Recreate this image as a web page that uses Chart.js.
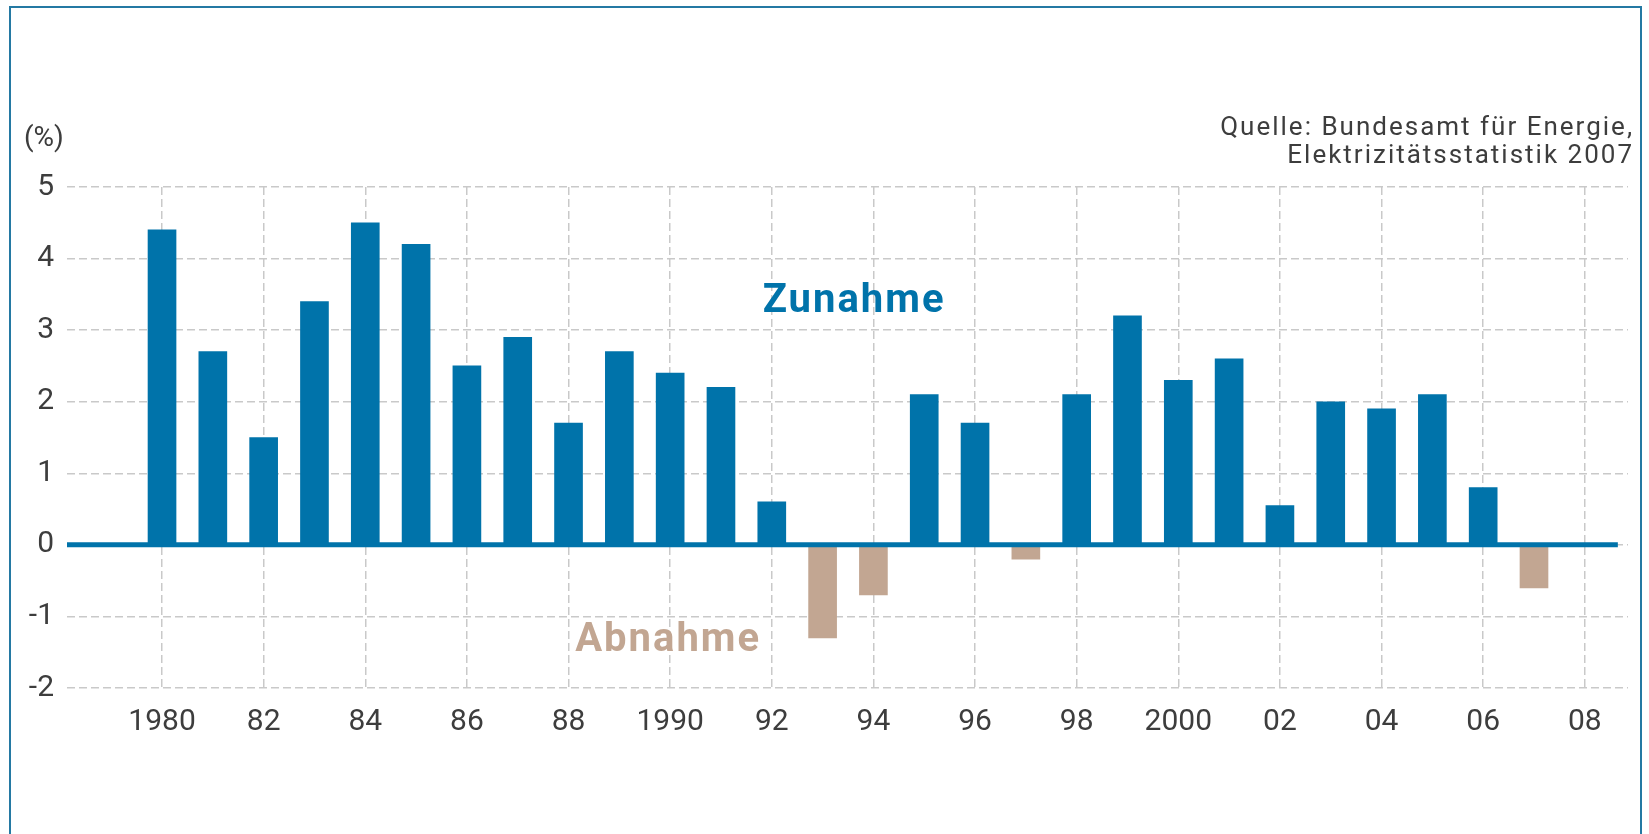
<!DOCTYPE html>
<html>
<head>
<meta charset="utf-8">
<script src="https://cdn.jsdelivr.net/npm/chart.js@4.4.1/dist/chart.umd.min.js"></script>
<style>
    html, body { margin: 0; padding: 0; background: #fff; overflow: hidden; }
    #wrap { position: relative; width: 1649px; height: 834px; }
    #rahmen {
        position: absolute; left: 9px; top: 6px; width: 1629px; height: 900px;
        border: 2px solid #2479a3; border-bottom: none; pointer-events: none;
    }
</style>
</head>
<body>
<div id="wrap">
    <canvas id="stromChart" width="1649" height="834"></canvas>
    <div id="rahmen"></div>
</div>
<script>
// Veränderung des Stromverbrauchs gegenüber Vorjahr (%)
const jahre = [1980, 1981, 1982, 1983, 1984, 1985, 1986, 1987, 1988, 1989,
               1990, 1991, 1992, 1993, 1994, 1995, 1996, 1997, 1998, 1999,
               2000, 2001, 2002, 2003, 2004, 2005, 2006, 2007];
const veraenderung = [4.4, 2.7, 1.5, 3.4, 4.5, 4.2, 2.5, 2.9, 1.7, 2.7,
                      2.4, 2.2, 0.6, -1.3, -0.7, 2.1, 1.7, -0.2, 2.1, 3.2,
                      2.3, 2.6, 0.55, 2.0, 1.9, 2.1, 0.8, -0.6];
const tickJahre = [1980, 1982, 1984, 1986, 1988, 1990, 1992, 1994,
                   1996, 1998, 2000, 2002, 2004, 2006, 2008];
const tickLabels = ['1980', '82', '84', '86', '88', '1990', '92', '94',
                    '96', '98', '2000', '02', '04', '06', '08'];

const BLAU = '#0073aa';
const BEIGE = '#c2a692';
const GRAU = '#3d3d3d';
const FONT = 'Roboto, "Liberation Sans", sans-serif';

// Nulllinie, Beschriftungen und Quelle
const beschriftung = {
    id: 'beschriftung',
    afterDatasetsDraw(chart) {
        const { ctx, chartArea, scales: { x, y } } = chart;
        ctx.save();

        // dicke Nulllinie
        const y0 = y.getPixelForValue(0);
        ctx.strokeStyle = BLAU;
        ctx.lineWidth = 5;
        ctx.beginPath();
        ctx.moveTo(chartArea.left, y0);
        ctx.lineTo(x.getPixelForValue(2008.65), y0);
        ctx.stroke();

        // Zunahme / Abnahme
        ctx.textAlign = 'center';
        ctx.textBaseline = 'middle';
        ctx.letterSpacing = '2px';
        ctx.font = 'bold 40px ' + FONT;
        ctx.fillStyle = BLAU;
        ctx.fillText('Zunahme', x.getPixelForValue(1993.62), y.getPixelForValue(3.40));
        ctx.fillStyle = BEIGE;
        ctx.fillText('Abnahme', x.getPixelForValue(1989.96), y.getPixelForValue(-1.35));

        // Einheit
        ctx.letterSpacing = '0px';
        ctx.textAlign = 'left';
        ctx.font = '28px ' + FONT;
        ctx.fillStyle = GRAU;
        ctx.fillText('(%)', 24, 139);

        // Quelle
        ctx.textAlign = 'right';
        ctx.textBaseline = 'alphabetic';
        ctx.letterSpacing = '2px';
        ctx.font = '26px ' + FONT;
        ctx.fillText('Quelle: Bundesamt für Energie,', 1634, 135);
        ctx.fillText('Elektrizitätsstatistik 2007', 1634, 163);
        ctx.restore();
    }
};

const ctx = document.getElementById('stromChart').getContext('2d');
const stromChart = new Chart(ctx, {
    type: 'bar',
    data: {
        datasets: [{
            label: 'Veränderung (%)',
            data: jahre.map((j, i) => ({ x: j, y: veraenderung[i] })),
            backgroundColor: c => (c.raw && c.raw.y < 0) ? BEIGE : BLAU,
            barThickness: 28,
            borderWidth: 0
        }]
    },
    options: {
        responsive: false,
        animation: false,
        layout: { padding: { left: 0, right: 21, top: 187, bottom: 66 } },
        plugins: {
            legend: { display: false },
            tooltip: { enabled: false }
        },
        scales: {
            x: {
                type: 'linear',
                offset: false,
                min: 1978.13,
                max: 2008.85,
                afterBuildTicks: axis => {
                    axis.ticks = tickJahre.map(v => ({ value: v }));
                },
                afterFit: axis => { axis.height = 80; },
                ticks: {
                    autoSkip: false,
                    maxRotation: 0,
                    padding: 16,
                    color: GRAU,
                    font: { family: FONT, size: 30 },
                    callback: v => tickLabels[tickJahre.indexOf(v)]
                },
                grid: { color: '#c9c9c9', lineWidth: 1.5, drawTicks: false, offset: false },
                border: { display: false, dash: [8, 4] }
            },
            y: {
                min: -2,
                max: 5,
                afterFit: axis => { axis.width = 67; },
                ticks: {
                    stepSize: 1,
                    padding: 13,
                    color: GRAU,
                    font: { family: FONT, size: 30 }
                },
                grid: { color: '#c9c9c9', lineWidth: 1.5, drawTicks: false },
                border: { display: false, dash: [8, 4] }
            }
        }
    },
    plugins: [beschriftung]
});
</script>
</body>
</html>
